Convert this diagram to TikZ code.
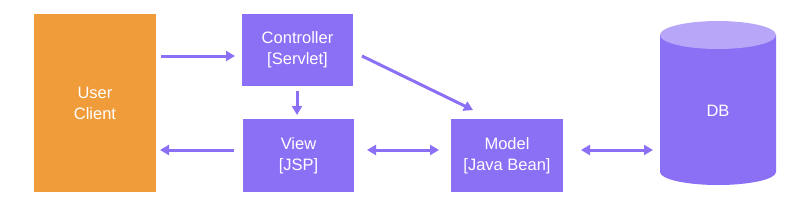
\documentclass[tikz,border=0pt]{standalone}
\usepackage{fontspec}
\setmainfont{Liberation Sans}
\usetikzlibrary{arrows.meta}
\definecolor{orangeC}{HTML}{F09C3A}
\definecolor{purpleC}{HTML}{8B6FF5}
\definecolor{purpleL}{HTML}{B8A7F9}
\begin{document}
\begin{tikzpicture}[x=1pt,y=-1pt,
  box/.style={draw=none,fill=purpleC,text=white,align=center,font=\fontsize{16.5}{21}\selectfont,inner sep=0pt},
  conn/.style={draw=purpleC,line width=3pt,-{Triangle[length=9pt,width=10pt]}},
  biconn/.style={draw=purpleC,line width=3pt,{Triangle[length=9pt,width=10pt]}-{Triangle[length=9pt,width=10pt]}}]
\useasboundingbox (0,0) rectangle (806,209);
\node[box,fill=orangeC,minimum width=122pt,minimum height=178pt] (user) at (95,103) {User\\Client};
\node[box,minimum width=111pt,minimum height=72pt] (ctrl) at (297.5,50) {Controller\\{[}Servlet{]}};
\node[box,minimum width=111pt,minimum height=73pt] (view) at (298.5,155.5) {View\\{[}JSP{]}};
\node[box,minimum width=112pt,minimum height=73pt] (model) at (507,155.5) {Model\\{[}Java Bean{]}};
% DB cylinder
\fill[purpleC] (660,35) -- (660,172) arc[start angle=180,end angle=360,x radius=58,y radius=-13] -- (776,35) -- cycle;
\fill[purpleL] (718,35) ellipse[x radius=58,y radius=14];
\node[box,fill=none,minimum width=116pt,minimum height=150pt] (db) at (718,111) {DB};
\coordinate (a1s) at (161,56);
\coordinate (a1e) at (235,56);
\draw[conn] (a1s) -- (a1e);
\coordinate (a2s) at (297,91);
\coordinate (a2e) at (297,115);
\draw[conn] (a2s) -- (a2e);
\coordinate (a3s) at (234,150);
\coordinate (a3e) at (160,150);
\draw[conn] (a3s) -- (a3e);
\coordinate (a4s) at (367,150);
\coordinate (a4e) at (439,150);
\draw[biconn] (a4s) -- (a4e);
\coordinate (a5s) at (581,150);
\coordinate (a5e) at (653,150);
\draw[biconn] (a5s) -- (a5e);
\coordinate (a6s) at (362,56);
\coordinate (a6e) at (473,110);
\draw[conn] (a6s) -- (a6e);
\end{tikzpicture}
\end{document}
